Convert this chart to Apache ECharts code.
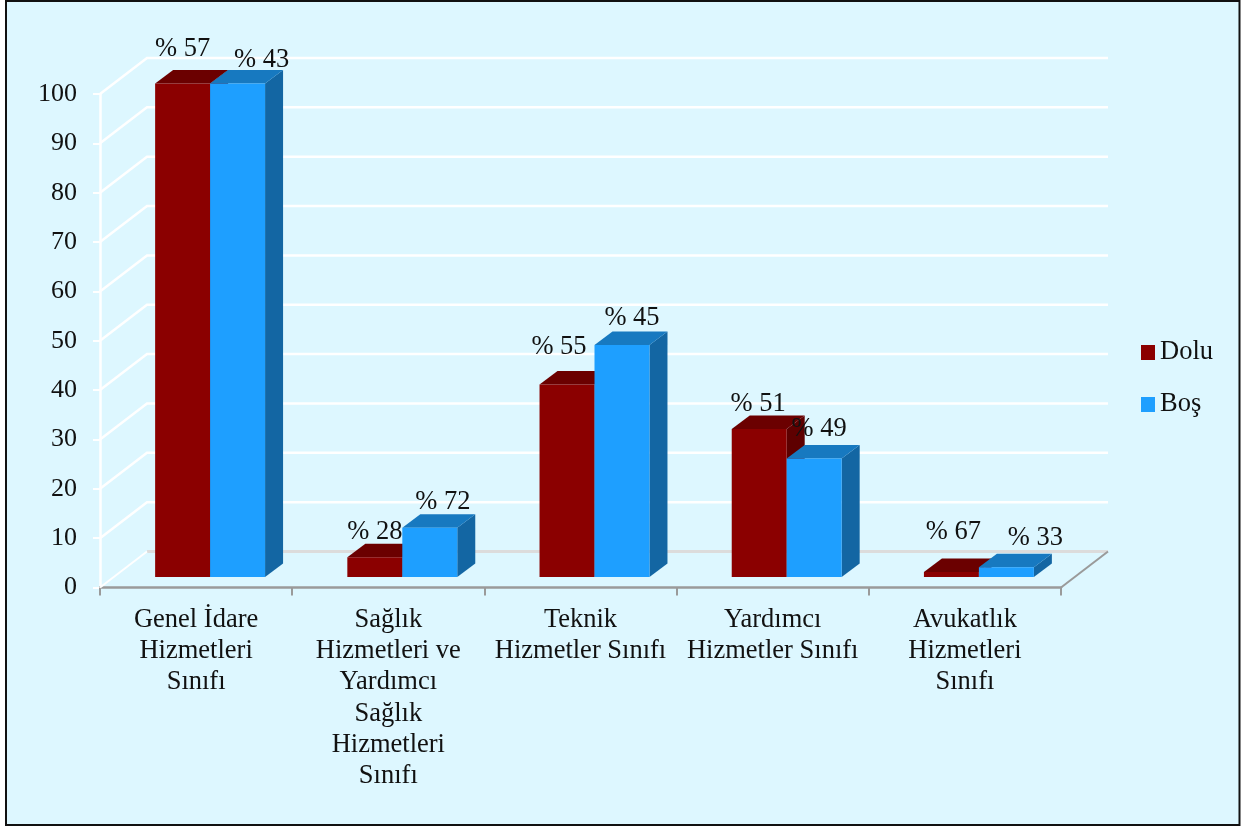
<!DOCTYPE html>
<html>
<head>
<meta charset="utf-8">
<script src="https://cdn.jsdelivr.net/npm/echarts@6/dist/echarts.min.js"></script>
<style>html,body{margin:0;padding:0;background:#fff}#c{width:1245px;height:827px}</style>
</head>
<body>
<div id="c"></div>
<script>
const categories = [
  'Genel İdare\nHizmetleri\nSınıfı',
  'Sağlık\nHizmetleri ve\nYardımcı\nSağlık\nHizmetleri\nSınıfı',
  'Teknik\nHizmetler Sınıfı',
  'Yardımcı\nHizmetler Sınıfı',
  'Avukatlık\nHizmetleri\nSınıfı'
];
const doluValues = [100, 4, 39, 30, 1];
const bosValues = [100, 10, 47, 24, 2];
const doluLabels = ['% 57', '% 28', '% 55', '% 51', '% 67'];
const bosLabels = ['% 43', '% 72', '% 45', '% 49', '% 33'];
const yTicks = [0, 10, 20, 30, 40, 50, 60, 70, 80, 90, 100];

const FONT = '"Liberation Serif","Times New Roman",serif';
const TEXT = '#111111';
const WALL = [47, -36];      // perspective offset of the back wall
const BAR_SHIFT = [14, -10.5]; // bars stand inside the floor
const BAR_DEPTH = [18, -13.5];
const BAR_RATIO = 0.286;
const doluNudge = [[0,-34.5],[0,-25.5],[-8,-37.5],[-1,-24.5],[2,-40.5]];
const bosNudge = [[24,-23.5],[13,-25.5],[10,-27.5],[5,-29.5],[29,-29.5]];

function wallItem(params, api) {
  const v = api.value(1);
  const p = api.coord([0, v]);
  const band = api.size([1, 0])[0];
  const left = p[0] - band / 2;
  const right = left + band * categories.length;
  const y = p[1];
  const mk = (pts, color, w) => ({
    type: 'polyline',
    shape: { points: pts },
    style: { stroke: color, lineWidth: w, fill: null }
  });
  const back = [left + WALL[0], y + WALL[1]];
  const backR = [right + WALL[0], y + WALL[1]];
  if (v === 0) {
    return { type: 'group', children: [
      mk([back, backR], '#dcdcdc', 3),
      mk([[left, y], back], '#ffffff', 2),
      mk([[right, y], backR], '#9a9a9a', 2)
    ]};
  }
  return mk([[left, y], back, backR], '#ffffff', 2.5);
}

function barItemFactory(side, labels, nudges, cFront, cTop, cSide) {
  return function (params, api) {
    const i = api.value(0);
    const v = api.value(1);
    const top = api.coord([i, v]);
    const base = api.coord([i, 0]);
    const band = api.size([1, 0])[0];
    const w = band * BAR_RATIO;
    const x0 = top[0] + BAR_SHIFT[0] + (side === 0 ? -w : 0);
    const x1 = x0 + w;
    const yT = top[1] + BAR_SHIFT[1];
    const yB = base[1] + BAR_SHIFT[1];
    const d = BAR_DEPTH;
    const n = nudges[params.dataIndex];
    return { type: 'group', children: [
      { type: 'polygon', shape: { points: [[x1, yT], [x1 + d[0], yT + d[1]], [x1 + d[0], yB + d[1]], [x1, yB]] }, style: { fill: cSide } },
      { type: 'polygon', shape: { points: [[x0, yT], [x1, yT], [x1 + d[0], yT + d[1]], [x0 + d[0], yT + d[1]]] }, style: { fill: cTop } },
      { type: 'rect', shape: { x: x0, y: yT, width: w, height: yB - yT }, style: { fill: cFront } },
      { type: 'text', z2: 100, x: (x0 + x1) / 2 + n[0], y: yT + n[1],
        style: { text: labels[params.dataIndex], fill: TEXT, font: '26.5px ' + FONT, align: 'center', verticalAlign: 'middle' } }
    ]};
  };
}

const chart = echarts.init(document.getElementById('c'), null, { renderer: 'canvas' });
chart.setOption({
  animation: false,
  backgroundColor: '#ffffff',
  graphic: [{
    type: 'rect', z: -10, silent: true,
    shape: { x: 6, y: 1, width: 1233.5, height: 824 },
    style: { fill: '#ddf7ff', stroke: '#111111', lineWidth: 2 }
  }],
  grid: { left: 100, top: 94, width: 961, height: 493.5, containLabel: false },
  legend: {
    orient: 'vertical', left: 1136, top: 334, itemWidth: 14, itemHeight: 15, itemGap: 25,
    icon: 'rect',
    data: ['Dolu', 'Boş'],
    textStyle: { fontFamily: FONT, fontSize: 26.5, color: TEXT }
  },
  xAxis: {
    type: 'category', data: categories,
    axisLine: { lineStyle: { color: '#9a9a9a', width: 2.5 } },
    axisTick: { show: true, alignWithLabel: false, length: 8, lineStyle: { color: '#9a9a9a', width: 2 } },
    axisLabel: { interval: 0, margin: 16.5, fontFamily: FONT, fontSize: 26.5, color: TEXT, lineHeight: 31.3, align: 'center' },
    splitLine: { show: false }
  },
  yAxis: {
    type: 'value', min: 0, max: 100, interval: 10,
    axisLine: { show: true, lineStyle: { color: '#ffffff', width: 2.5 } },
    axisTick: { show: true, length: 7, lineStyle: { color: '#ffffff', width: 2 } },
    axisLabel: { margin: 23, fontFamily: FONT, fontSize: 26, color: TEXT, padding: [7, 0, 0, 0],
      formatter: (v) => yTicks.includes(v) ? String(v) : '' },
    splitLine: { show: false }
  },
  series: [
    { type: 'custom', name: 'wall', silent: true, clip: false, z: 1, encode: { x: 0, y: 1 },
      data: yTicks.map((v) => [0, v]), renderItem: wallItem },
    { type: 'custom', name: 'Dolu', clip: false, z: 2, encode: { x: 0, y: 1 },
      itemStyle: { color: '#8b0000' },
      data: doluValues.map((v, i) => [i, v]),
      renderItem: barItemFactory(0, doluLabels, doluNudge, '#8b0000', '#6b0000', '#5e0000') },
    { type: 'custom', name: 'Boş', clip: false, z: 2, encode: { x: 0, y: 1 },
      itemStyle: { color: '#1e9fff' },
      data: bosValues.map((v, i) => [i, v]),
      renderItem: barItemFactory(1, bosLabels, bosNudge, '#1e9fff', '#1779c0', '#1366a3') }
  ]
});
</script>
</body>
</html>
